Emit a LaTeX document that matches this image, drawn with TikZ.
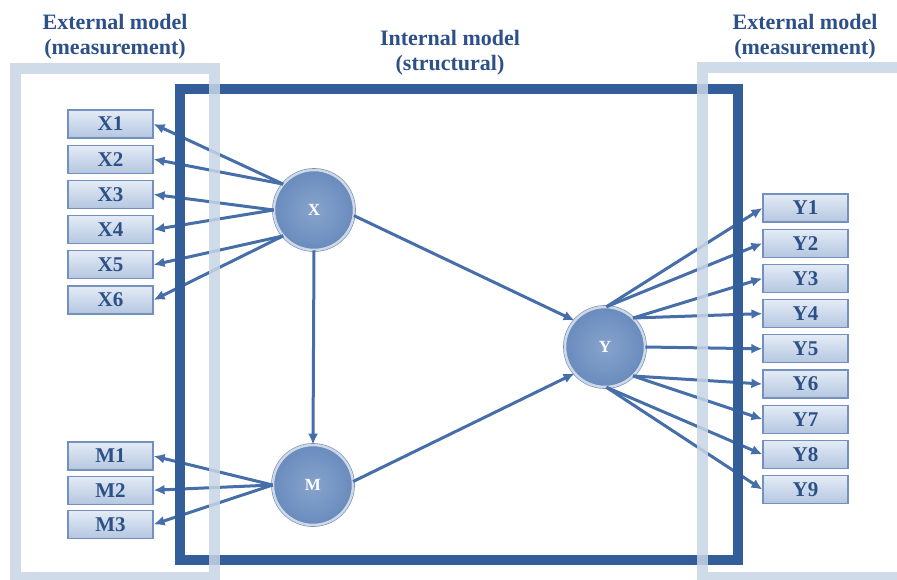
\documentclass[tikz,border=0pt]{standalone}
\usepackage{fontspec}
\setmainfont{Liberation Serif}
\usetikzlibrary{arrows.meta,positioning}
\definecolor{innerblue}{RGB}{52,94,154}
\definecolor{outerblue}{RGB}{200,213,230}
\definecolor{arrowblue}{RGB}{70,110,168}
\definecolor{labelblue}{RGB}{45,80,135}
\definecolor{boxtop}{RGB}{228,236,246}
\definecolor{boxbot}{RGB}{180,198,224}
\definecolor{boxedge}{RGB}{115,145,188}
\definecolor{lvfill}{RGB}{105,140,190}
\definecolor{lvrim}{RGB}{205,216,232}
\definecolor{lvedge}{RGB}{110,138,178}

\begin{document}
\begin{tikzpicture}[
    x=1pt,y=-1pt,
    node distance=6pt,
    ind/.style={rectangle,draw=boxedge,line width=1.2pt,top color=boxtop,bottom color=boxbot,
      minimum width=85pt,minimum height=28pt,inner sep=0pt,
      font=\fontsize{21}{21}\selectfont\bfseries,text=labelblue},
    lv/.style={circle,draw=lvedge,line width=0.6pt,double=lvrim,double distance=2.5pt,
      inner color=lvfill!80!white,outer color=lvfill,minimum size=80pt,
      font=\fontsize{17}{17}\selectfont\bfseries,text=white},
    title/.style={align=center,font=\fontsize{22}{25}\selectfont\bfseries,text=labelblue},
    arrow/.style={-{Latex[length=11pt,width=10pt]},line width=3pt,draw=arrowblue},
    outerframe/.style={draw=outerblue,line width=11pt,opacity=0.85},
    innerframe/.style={draw=innerblue,line width=10pt}
  ]
    \useasboundingbox (0,0) rectangle (897,579);

    % titles
    \node[title] (extleft) at (115,37) {External model\\(measurement)};
    \node[title] (internal) at (450,53) {Internal model\\(structural)};
    \node[title] (extright) at (805,37) {External model\\(measurement)};

    % latent variables
    \node[lv] (X) at (314,210) {X};
    \node[lv] (M) at (313,485) {M};
    \node[lv] (Y) at (605,347) {Y};

    % indicators
    \node[ind] (X1) at (110.5,124) {X1};
    \foreach \i [remember=\i as \j (initially 1)] in {2,...,6}
      \node[ind,below=of X\j] (X\i) {X\i};
    \node[ind] (M1) at (110.5,456) {M1};
    \foreach \i [remember=\i as \j (initially 1)] in {2,3}
      \node[ind,below=5pt of M\j] (M\i) {M\i};
    \node[ind] (Y1) at (805.5,208) {Y1};
    \foreach \i [remember=\i as \j (initially 1)] in {2,...,9}
      \node[ind,below=of Y\j] (Y\i) {Y\i};

    % measurement arrows
    \foreach \i/\a in {1/140,2/140,3/180,4/180,5/220,6/220}
      \draw[arrow] (X.\a) -- (X\i.east);
    \foreach \i in {1,2,3}
      \draw[arrow] (M.180) -- (M\i.east);
    \foreach \i/\a in {1/88,2/88,3/46,4/46,5/0,6/314,7/314,8/272,9/272}
      \draw[arrow] (Y.\a) -- (Y\i.west);

    % structural arrows
    \draw[arrow] (X.352) -- (Y.139);
    \draw[arrow] (X.south) -- (M.north);
    \draw[arrow] (M.5) -- (Y.221);

    % frames
    \draw[innerframe] (180,89) rectangle (738,560);
    \draw[outerframe] (15,68) rectangle (214,577);
    \draw[outerframe] (702,67) rectangle (910,577);
  \end{tikzpicture}
\end{document}
